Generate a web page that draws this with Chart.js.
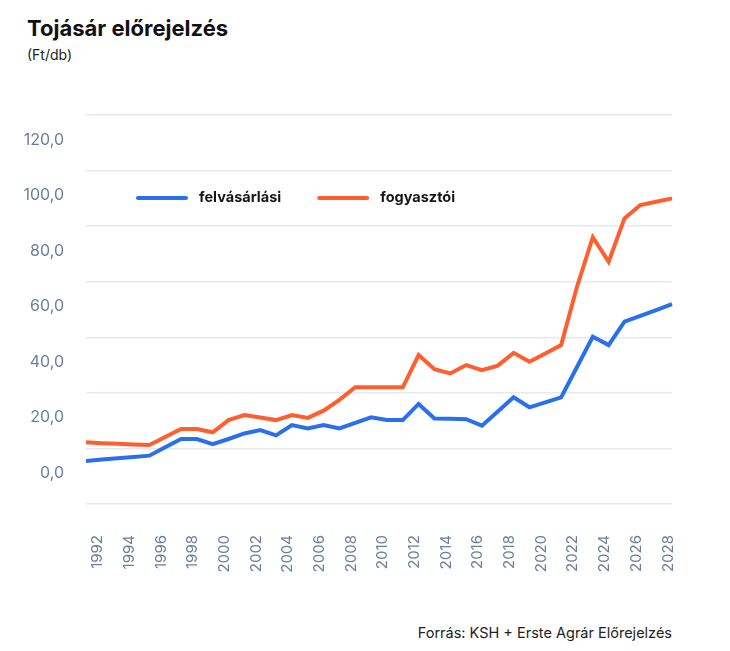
<!DOCTYPE html>
<html lang="hu">
<head>
<meta charset="utf-8">
<title>Tojásár előrejelzés</title>
<script src="https://cdn.jsdelivr.net/npm/chart.js@4/dist/chart.umd.min.js"></script>
<style>
  html, body { margin: 0; padding: 0; background: #fff; }
  body { width: 730px; height: 651px; position: relative; font-family: Inter, "Noto Sans", sans-serif; }
  #title { position: absolute; left: 27px; top: 15px; font-size: 22px; font-weight: 700; color: #111; }
  #unit { position: absolute; left: 27px; top: 46px; font-size: 14px; color: #222; }
  #source { position: absolute; right: 58px; top: 624px; font-size: 14.5px; color: #222; }
  #wrap { position: absolute; left: 0; top: 80px; width: 730px; height: 520px; }
</style>
</head>
<body>
<div id="title">Tojásár előrejelzés</div>
<div id="unit">(Ft/db)</div>
<div id="wrap"><canvas id="chart"></canvas></div>
<div id="source">Forrás: KSH + Erste Agrár Előrejelzés</div>

<script>
// years on the x axis (only even ones get a label)
const years = [];
for (let y = 1991; y <= 2028; y++) years.push(y);

// felvásárlási ár (Ft/db)
const felvasarlasi = [
  5.5, 6.0, 6.5, 6.9, 7.4, 10.4, 13.4, 13.4, 11.5, 13.4,
  15.4, 16.6, 14.7, 18.4, 17.2, 18.4, 17.2, 19.2, 21.2, 20.2,
  20.2, 26.0, 20.8, 20.7, 20.5, 18.2, 23.3, 28.4, 24.8, 26.6,
  28.4, 39.3, 50.2, 47.2, 55.6, 57.7, 59.8, 61.9
];

// fogyasztói ár (Ft/db)
const fogyasztoi = [
  12.2, 11.9, 11.7, 11.4, 11.2, 14.1, 17.0, 17.0, 15.8, 20.2,
  22.0, 21.1, 20.2, 22.0, 21.0, 23.6, 27.5, 32.0, 32.0, 32.0,
  32.0, 43.6, 38.5, 37.0, 40.0, 38.2, 39.8, 44.4, 41.2, 44.2,
  47.2, 68.2, 86.0, 77.2, 92.8, 97.6, 98.8, 100.0
];

const yTicks = [0, 20, 40, 60, 80, 100, 120];
const gridLines = [-10, 10, 30, 50, 70, 90, 110, 130];

const blue = '#2a6fec';
const orange = '#ff5f2e';
const tickColor = '#6a7f9d';

// legend drawn inside the plot area
const innerLegend = {
  id: 'innerLegend',
  afterDraw(chart) {
    const ctx = chart.ctx;
    const area = chart.chartArea;
    let x = area.left + 52;
    const y = area.top + 83;
    ctx.save();
    ctx.font = '700 14.5px Inter, sans-serif';
    ctx.textBaseline = 'middle';
    chart.data.datasets.forEach((ds) => {
      ctx.strokeStyle = ds.borderColor;
      ctx.lineWidth = 4;
      ctx.lineCap = 'round';
      ctx.beginPath();
      ctx.moveTo(x, y);
      ctx.lineTo(x + 48, y);
      ctx.stroke();
      x += 61;
      ctx.fillStyle = '#161616';
      ctx.fillText(ds.label, x, y);
      x += ctx.measureText(ds.label).width + 38;
    });
    ctx.restore();
  }
};

new Chart(document.getElementById('chart'), {
  type: 'line',
  data: {
    labels: years,
    datasets: [
      {
        label: 'felvásárlási',
        data: felvasarlasi,
        borderColor: blue,
        backgroundColor: blue,
        borderWidth: 4,
        pointRadius: 0,
        tension: 0,
      },
      {
        label: 'fogyasztói',
        data: fogyasztoi,
        borderColor: orange,
        backgroundColor: orange,
        borderWidth: 4,
        pointRadius: 0,
        tension: 0,
      },
    ],
  },
  options: {
    responsive: true,
    maintainAspectRatio: false,
    animation: false,
    layout: {
      padding: { left: 20, right: 58, top: 35, bottom: 16 },
    },
    plugins: {
      legend: { display: false },
      tooltip: { enabled: false },
    },
    scales: {
      x: {
        grid: { display: false, drawTicks: false },
        border: { display: false },
        ticks: {
          autoSkip: false,
          minRotation: 90,
          maxRotation: 90,
          padding: 31,
          labelOffset: -4,
          color: tickColor,
          font: { family: 'Inter', size: 15 },
          callback: function (value) {
            const yr = this.getLabelForValue(value);
            return yr % 2 === 0 ? String(yr) : '';
          },
        },
        afterFit: (scale) => { scale.height = 80; },
      },
      y: {
        min: -10,
        max: 130,
        grid: { display: false, drawTicks: false },
        border: { display: false },
        ticks: {
          padding: 22,
          labelOffset: -3,
          color: tickColor,
          font: { family: 'Inter', size: 16 },
          callback: (v) => v.toFixed(1).replace('.', ','),
        },
        afterBuildTicks: (scale) => { scale.ticks = yTicks.map((v) => ({ value: v })); },
        afterFit: (scale) => { scale.width = 66; },
      },
      yGrid: {
        position: 'left',
        min: -10,
        max: 130,
        grid: { color: '#e6eaf0', lineWidth: 1.5, drawTicks: false },
        border: { display: false },
        ticks: { display: false },
        afterBuildTicks: (scale) => { scale.ticks = gridLines.map((v) => ({ value: v })); },
        afterFit: (scale) => { scale.width = 0; },
      },
    },
  },
  plugins: [innerLegend],
});
</script>
</body>
</html>
